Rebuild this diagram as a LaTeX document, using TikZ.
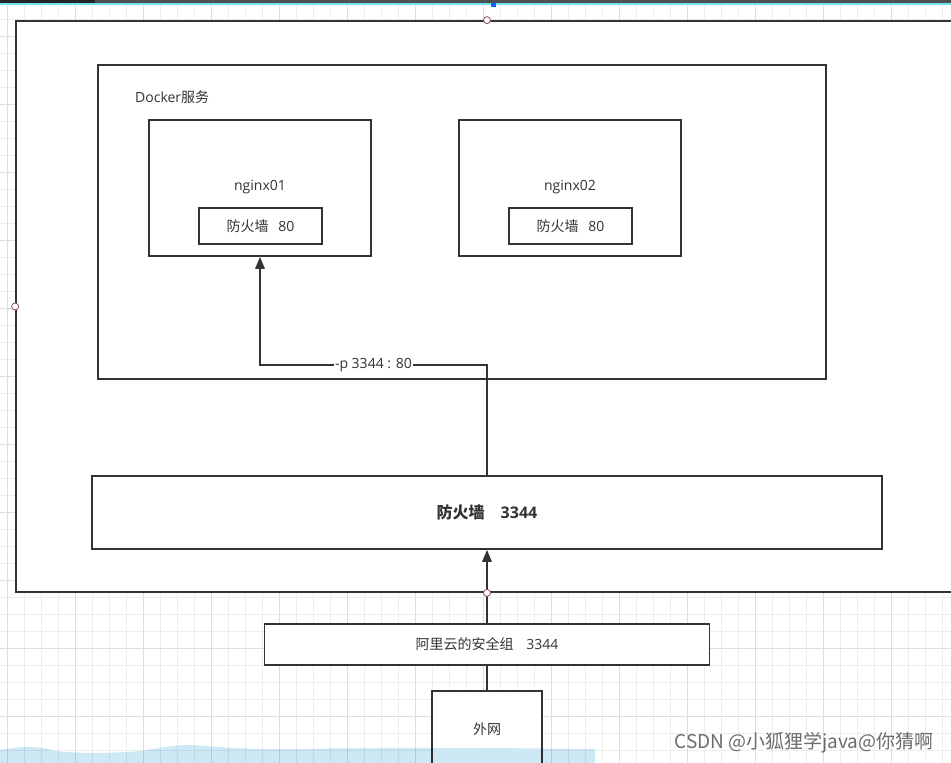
\documentclass[tikz,border=0pt]{standalone}
\usepackage{fontspec}
\setmainfont{Open Sans}
\newfontfamily\cjk{Noto Sans CJK SC}
\usepackage{tikz}
\usetikzlibrary{arrows.meta, calc}

\definecolor{ink}{HTML}{333333}
\definecolor{gridminor}{HTML}{EDEDED}
\definecolor{gridmajor}{HTML}{DDDDDD}
\definecolor{handlecol}{HTML}{9A4A5A}
\definecolor{wavecol}{HTML}{CDE9F5}
\definecolor{barcol}{HTML}{4F4F4F}
\definecolor{barline}{HTML}{6FE3F2}

\begin{document}
\begin{tikzpicture}[x=1pt, y=-1pt,
        box/.style={draw=ink, line width=1.7pt, rectangle, fill=white, inner sep=0pt},
        tag/.style={text=ink, inner sep=1pt, font=\fontsize{14}{16}\selectfont},
        handle/.style={draw=handlecol, fill=white, circle, line width=0.8pt, minimum size=7pt, inner sep=0pt},
        arrow/.style={draw=ink, line width=1.7pt, -{Triangle[length=12pt, width=9.5pt]}}
    ]
        \useasboundingbox (0,0) rectangle (951,763);
        \clip (0,0) rectangle (951,763);
        \fill[white] (0,0) rectangle (951,763);

        % canvas grid
        \foreach \x in {7.7,24.7,...,951} \draw[gridminor, line width=0.8pt] (\x,0) -- (\x,763);
        \foreach \y in {2.3,19.3,...,763} \draw[gridminor, line width=0.8pt] (0,\y) -- (951,\y);
        \foreach \x in {7.7,75.7,...,951} \draw[gridmajor, line width=0.8pt] (\x,0) -- (\x,763);
        \foreach \y in {36.3,104.3,...,763} \draw[gridmajor, line width=0.8pt] (0,\y) -- (951,\y);

        \fill[barcol] (0,0) rectangle (951,3);
        \fill[ink!70!black] (0,0) rectangle (95,3);
        \fill[barline] (0,3) rectangle (951,4.5);
        \fill[blue!60!cyan] (491,3) rectangle (496,7);

        \node[box, minimum width=942pt, minimum height=571pt] (host) at (487,306.5) {};

        \node[box, minimum width=728pt, minimum height=314pt] (docker) at (462,222) {};
        \node[tag, anchor=west] (dockertitle) at (134,97) {Docker{\cjk 服务}};

        \node[box, minimum width=222pt, minimum height=136pt] (n1) at (260,188) {};
        \node[tag] (n1title) at (260,187) {nginx01};
        \node[box, tag, draw=ink, line width=1.7pt, minimum width=123pt, minimum height=36pt] (fw1) at (260.5,226) {{\cjk 防火墙}\hspace{0.7em}80};

        \node[box, minimum width=222pt, minimum height=136pt] (n2) at (570,188) {};
        \node[tag] (n2title) at (570,187) {nginx02};
        \node[box, tag, draw=ink, line width=1.7pt, minimum width=123pt, minimum height=36pt] (fw2) at (570.5,226) {{\cjk 防火墙}\hspace{0.7em}80};

        \node[box, text=ink, font=\fontsize{16}{18}\selectfont\bfseries, minimum width=790pt, minimum height=73pt] (fw) at (487,512.5) {{\cjk 防火墙}\hspace{1em}3344};

        \node[box, text=ink, font=\fontsize{14}{16}\selectfont, minimum width=445pt, minimum height=41pt] (sg) at (487,644.5) {{\cjk 阿里云的安全组}\hspace{0.9em}3344};

        \node[box, text=ink, font=\fontsize{14}{16}\selectfont\cjk, minimum width=110pt, minimum height=76pt] (wan) at (487,729) {外网};

        \coordinate (bend) at (487,365);
        \draw[arrow] (fw.north) -- (bend) -| node[pos=0.25, tag, fill=white] {-p 3344 : 80} (n1.south);
        \draw[arrow] (sg.north) -- (fw.south);
        \draw[draw=ink, line width=1.7pt] (wan.north) -- (sg.south);

        \node[handle] (h1) at (host.north) {};
        \node[handle] (h2) at (host.west) {};
        \node[handle] (h3) at (host.south) {};

        % blue strip at the bottom edge
        \fill[wavecol, blend mode=multiply] (0,763) -- (0,750) .. controls (20,746) and (40,746) .. (55,751)
            .. controls (80,754) and (120,753) .. (140,751) .. controls (160,748) and (175,745) .. (190,745)
            .. controls (210,746) and (240,750) .. (300,749) .. controls (400,747) and (500,748) .. (595,749)
            -- (595,763) -- cycle;

        \node[text=gray!85!black, font=\fontsize{19}{21}\selectfont\cjk] (mark) at (804,743) {CSDN @小狐狸学java@你猜啊};

    \end{tikzpicture}
\end{document}
